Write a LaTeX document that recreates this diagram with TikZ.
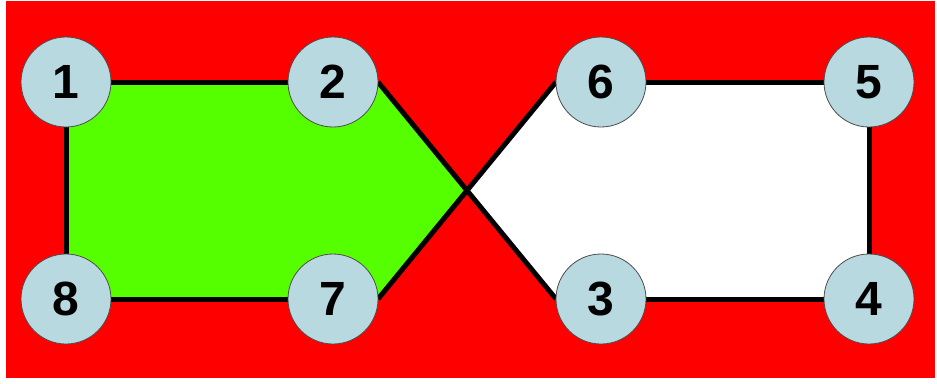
\documentclass[tikz,border=0pt]{standalone}
\usepackage{fontspec}
\setmainfont{Liberation Sans}
\usetikzlibrary{calc}
\definecolor{bgred}{RGB}{255,0,0}
\definecolor{lgreen}{RGB}{85,255,0}
\definecolor{nodeblue}{RGB}{185,217,224}
\tikzset{
  vert/.style={circle, fill=nodeblue, draw=black!70, line width=0.8pt, minimum size=90pt, inner sep=0pt,
    font=\fontsize{48}{48}\selectfont\bfseries},
  edge/.style={line width=5pt, black},
}
\begin{document}
\begin{tikzpicture}[x=1pt,y=-1pt]
\useasboundingbox (0,0) rectangle (937,383);
\fill[white] (0,0) rectangle (937,383);
\fill[bgred] (6,1) rectangle (935,378);
\coordinate (c1) at (66,82);
\coordinate (c2) at (333,82);
\coordinate (c6) at (601,82);
\coordinate (c5) at (869,82);
\coordinate (c8) at (66,299);
\coordinate (c7) at (333,299);
\coordinate (c3) at (601,299);
\coordinate (c4) at (869,299);
\coordinate (e2) at (378,82);
\coordinate (e7) at (378,299);
\coordinate (w6) at (556,82);
\coordinate (w3) at (556,299);
\coordinate (x) at ($(e2)!0.5!(w3)$);
\fill[lgreen] (c1) -- (e2) -- (x) -- (e7) -- (c8) -- cycle;
\fill[white] (w6) -- (c5) -- (c4) -- (w3) -- (x) -- cycle;
\draw[edge] (c1) -- (c2);
\draw[edge] (e2) -- (w3);
\draw[edge] (c3) -- (c4);
\draw[edge] (c4) -- (c5);
\draw[edge] (c5) -- (c6);
\draw[edge] (w6) -- (e7);
\draw[edge] (c7) -- (c8);
\draw[edge] (c8) -- (c1);
\node[vert] (n1) at (c1) {1};
\node[vert] (n2) at (c2) {2};
\node[vert] (n6) at (c6) {6};
\node[vert] (n5) at (c5) {5};
\node[vert] (n8) at (c8) {8};
\node[vert] (n7) at (c7) {7};
\node[vert] (n3) at (c3) {3};
\node[vert] (n4) at (c4) {4};
\end{tikzpicture}
\end{document}
